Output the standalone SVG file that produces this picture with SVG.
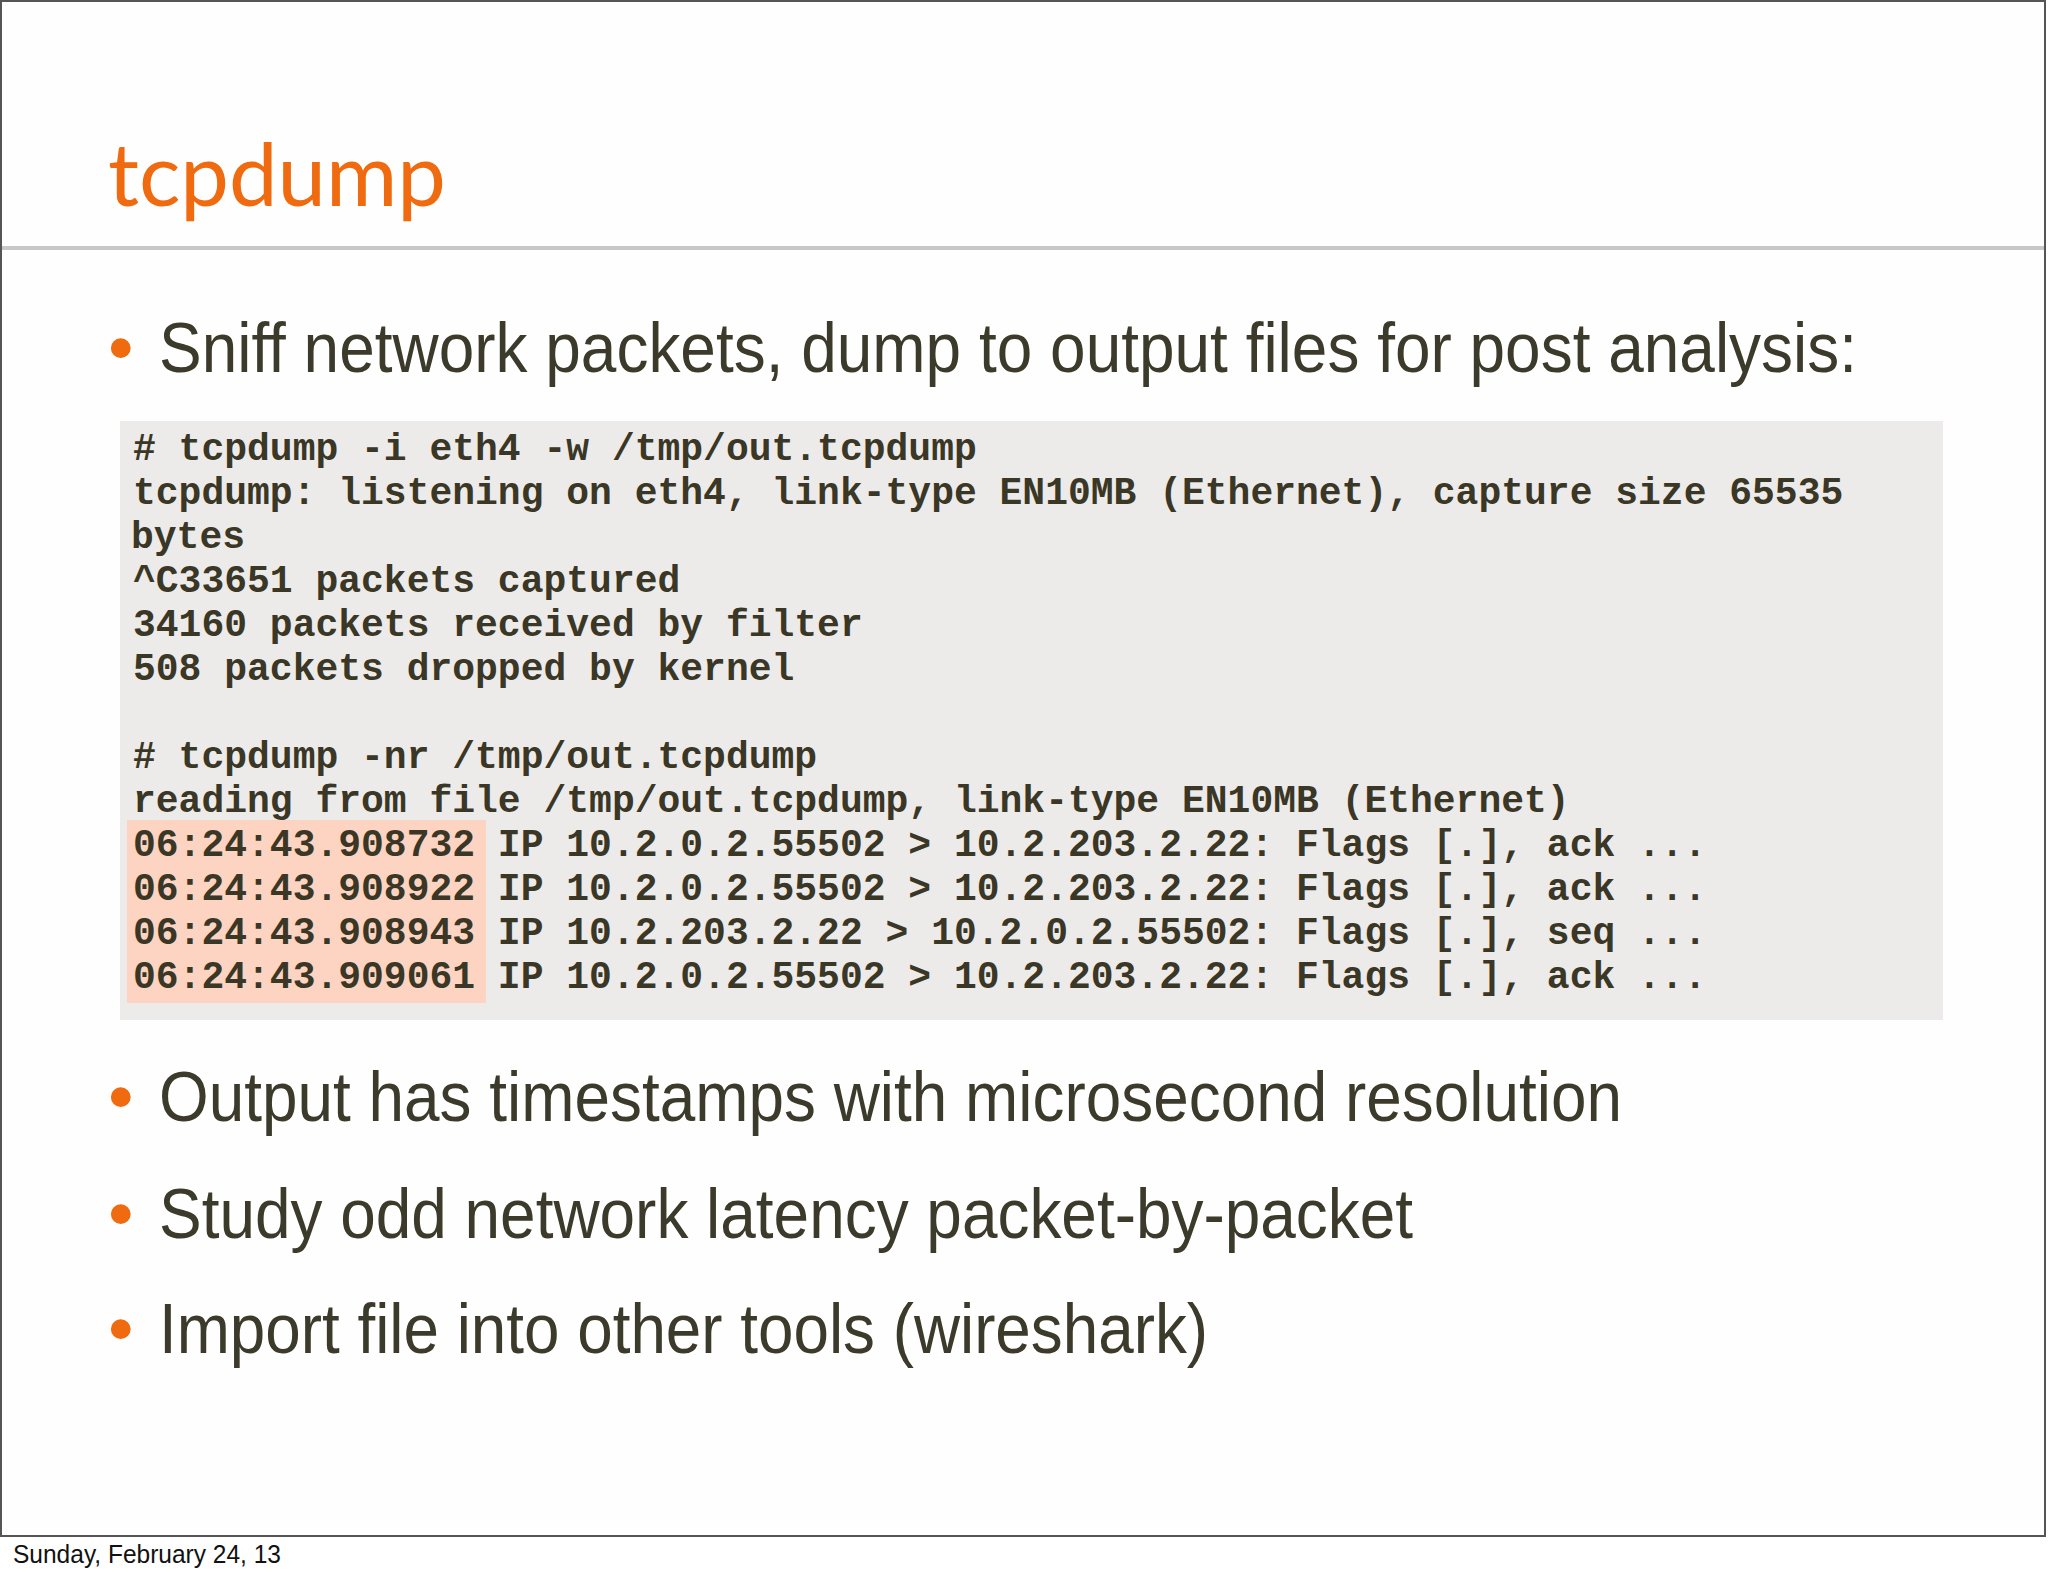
<svg xmlns="http://www.w3.org/2000/svg" width="2048" height="1576" viewBox="0 0 2048 1576">
<style>
.bullet{font-family:"Liberation Sans",Arial,sans-serif;font-size:71px;fill:#3b3a2b;}
.dot{font-family:"Liberation Sans",Arial,sans-serif;font-size:73px;fill:#f06a10;}
.code{font-family:"Liberation Mono","Courier New",monospace;font-size:38px;font-weight:bold;fill:#3a3726;}
.title{font-family:Lato,"Open Sans",sans-serif;font-size:88px;fill:#f06a10;}
.footer{font-family:"Liberation Sans",Arial,sans-serif;font-size:25px;fill:#111;}
</style>
<rect x="0" y="0" width="2048" height="1576" fill="#ffffff"/>
<g id="frame">
<rect x="1" y="1" width="2044" height="1535" fill="#fefefe" stroke="#555555" stroke-width="2"/>
<rect x="2" y="246" width="2042" height="4" fill="#c8c8c8"/>
</g>
<g id="title">
<text class="title" x="108" y="206" textLength="338" lengthAdjust="spacingAndGlyphs">tcpdump</text>
</g>
<g id="bullet1">
<text class="dot" x="108" y="372">•</text>
<text class="bullet" x="159" y="372" textLength="1698" lengthAdjust="spacingAndGlyphs">Sniff network packets, dump to output files for post analysis:</text>
</g>
<g id="code-block">
<rect x="120" y="421" width="1823" height="599" fill="#edebe9"/>
<rect x="127" y="820" width="359" height="183" fill="#fdd4c1"/>
<text class="code" x="133" y="460"># tcpdump -i eth4 -w /tmp/out.tcpdump</text>
<text class="code" x="133" y="504">tcpdump: listening on eth4, link-type EN10MB (Ethernet), capture size 65535</text>
<text class="code" x="131" y="548">bytes</text>
<text class="code" x="133" y="592">^C33651 packets captured</text>
<text class="code" x="133" y="636">34160 packets received by filter</text>
<text class="code" x="133" y="680">508 packets dropped by kernel</text>
<text class="code" x="133" y="768"># tcpdump -nr /tmp/out.tcpdump</text>
<text class="code" x="133" y="812">reading from file /tmp/out.tcpdump, link-type EN10MB (Ethernet)</text>
<text class="code" x="133" y="856">06:24:43.908732 IP 10.2.0.2.55502 &gt; 10.2.203.2.22: Flags [.], ack ...</text>
<text class="code" x="133" y="900">06:24:43.908922 IP 10.2.0.2.55502 &gt; 10.2.203.2.22: Flags [.], ack ...</text>
<text class="code" x="133" y="944">06:24:43.908943 IP 10.2.203.2.22 &gt; 10.2.0.2.55502: Flags [.], seq ...</text>
<text class="code" x="133" y="988">06:24:43.909061 IP 10.2.0.2.55502 &gt; 10.2.203.2.22: Flags [.], ack ...</text>
</g>
<g id="bullet2">
<text class="dot" x="108" y="1121">•</text>
<text class="bullet" x="159" y="1121" textLength="1463" lengthAdjust="spacingAndGlyphs">Output has timestamps with microsecond resolution</text>
</g>
<g id="bullet3">
<text class="dot" x="108" y="1238">•</text>
<text class="bullet" x="159" y="1238" textLength="1254" lengthAdjust="spacingAndGlyphs">Study odd network latency packet-by-packet</text>
</g>
<g id="bullet4">
<text class="dot" x="108" y="1353">•</text>
<text class="bullet" x="159" y="1353" textLength="1049" lengthAdjust="spacingAndGlyphs">Import file into other tools (wireshark)</text>
</g>
<g id="footer">
<text class="footer" x="13" y="1563" textLength="268" lengthAdjust="spacingAndGlyphs">Sunday, February 24, 13</text>
</g>
</svg>
